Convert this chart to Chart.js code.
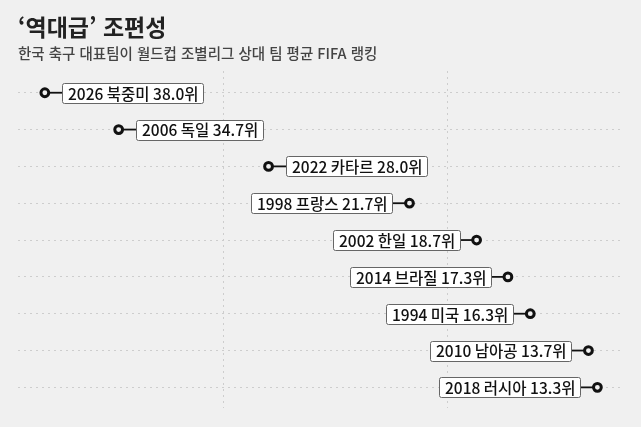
<!DOCTYPE html>
<html lang="ko">
<head>
    <meta charset="UTF-8">
    <title>역대급 조편성</title>
    <script src="https://cdn.jsdelivr.net/npm/chart.js"></script>
    <style>
        html, body { margin: 0; padding: 0; background: #f0f0f0; }
        body { width: 641px; height: 427px; position: relative; overflow: hidden;
               font-family: "Noto Sans CJK KR", "Noto Sans", sans-serif; }
        .title { position: absolute; left: 18px; top: 11px; font-size: 23px; font-weight: 700;
                 color: #222; line-height: 30px; }
        .sub { position: absolute; left: 18px; top: 42px; font-size: 14.5px; font-weight: 500;
               color: #444; line-height: 22px; }
        #wrap { position: absolute; left: 0; top: 0; width: 641px; height: 427px; }
    </style>
</head>
<body>
    <div id="wrap"><canvas id="rankChart"></canvas></div>
    <div class="title">‘역대급’ 조편성</div>
    <div class="sub">한국 축구 대표팀이 월드컵 조별리그 상대 팀 평균 FIFA 랭킹</div>

    <script>
        // 대회 연도, 개최지, 상대 팀 평균 FIFA 랭킹
        const years = ['2026', '2006', '2022', '1998', '2002', '2014', '1994', '2010', '2018'];
        const hosts = ['북중미', '독일', '카타르', '프랑스', '한일', '브라질', '미국', '남아공', '러시아'];
        const avgRanks = [38.0, 34.7, 28.0, 21.7, 18.7, 17.3, 16.3, 13.7, 13.3];
        const gridTicks = [20, 30];

        const BG = '#f0f0f0';
        const FONT = '500 15.5px "Noto Sans CJK KR", "Noto Sans", sans-serif';

        // 점 옆 라벨 박스 그리기
        const labelPlugin = {
            id: 'rankLabels',
            afterDatasetsDraw(chart) {
                const ctx = chart.ctx;
                const meta = chart.getDatasetMeta(0);
                ctx.save();
                ctx.font = FONT;
                ctx.textBaseline = 'middle';
                meta.data.forEach((pt, i) => {
                    const text = `${years[i]} ${hosts[i]} ${avgRanks[i].toFixed(1)}위`;
                    const w = Math.round(ctx.measureText(text).width + 11);
                    const h = 20;
                    const right = avgRanks[i] > 25;
                    const bx = Math.round(right ? pt.x + 17 : pt.x - 17 - w);
                    const by = Math.round(pt.y - h / 2);
                    // 연결선
                    ctx.strokeStyle = '#111';
                    ctx.lineWidth = 1.8;
                    ctx.beginPath();
                    ctx.moveTo(pt.x, pt.y);
                    ctx.lineTo(right ? bx : bx + w, pt.y);
                    ctx.stroke();
                    // 박스
                    ctx.fillStyle = '#fff';
                    ctx.strokeStyle = '#666';
                    ctx.lineWidth = 1;
                    ctx.beginPath();
                    ctx.roundRect(bx + 0.5, by + 0.5, w, h, 2);
                    ctx.fill();
                    ctx.stroke();
                    ctx.fillStyle = '#111';
                    ctx.textAlign = 'left';
                    ctx.fillText(text, bx + 6, pt.y + 1);
                    // 점 (연결선 위로)
                    ctx.beginPath();
                    ctx.arc(pt.x, pt.y, 3.9, 0, Math.PI * 2);
                    ctx.fillStyle = BG;
                    ctx.fill();
                    ctx.lineWidth = 3;
                    ctx.strokeStyle = '#111';
                    ctx.stroke();
                });
                ctx.restore();
            }
        };

        const ctx = document.getElementById('rankChart').getContext('2d');
        new Chart(ctx, {
            type: 'scatter',
            data: {
                datasets: [{
                    data: avgRanks.map((v, i) => ({ x: v, y: i })),
                    pointRadius: 0,
                    pointHoverRadius: 0
                }]
            },
            options: {
                responsive: true,
                maintainAspectRatio: false,
                animation: false,
                events: [],
                layout: { padding: { left: 18, right: 19, top: 71, bottom: 19 } },
                plugins: {
                    legend: { display: false },
                    tooltip: { enabled: false }
                },
                scales: {
                    x: {
                        type: 'linear',
                        reverse: true,
                        min: 12.2,
                        max: 39.2,
                        afterBuildTicks: axis => { axis.ticks = gridTicks.map(v => ({ value: v })); },
                        ticks: { display: false },
                        grid: { color: '#cdcdcd', lineWidth: 1, drawTicks: false },
                        border: { display: false, dash: [2, 4] }
                    },
                    y: {
                        type: 'linear',
                        reverse: true,
                        min: -0.59,
                        max: 8.56,
                        afterBuildTicks: axis => { axis.ticks = years.map((_, i) => ({ value: i })); },
                        ticks: { display: false },
                        grid: { color: '#cdcdcd', lineWidth: 1, drawTicks: false },
                        border: { display: false, dash: [2, 4] }
                    }
                }
            },
            plugins: [labelPlugin]
        });
    </script>
</body>
</html>
